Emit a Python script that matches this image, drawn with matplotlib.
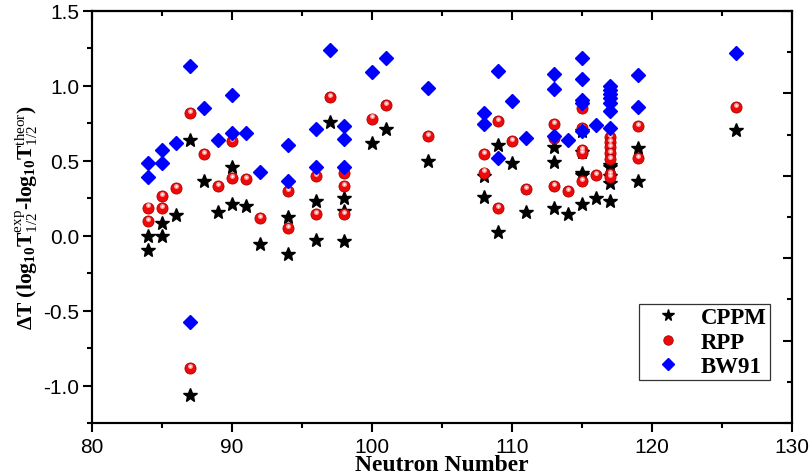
import numpy as np
import matplotlib
matplotlib.use("Agg")
import matplotlib.pyplot as plt
from matplotlib.ticker import MultipleLocator, FixedLocator, NullFormatter
from matplotlib.transforms import offset_copy

# ---------------- data ----------------
cppm_N = [84, 84, 85, 85, 86, 87, 87, 88, 89, 90, 90, 91, 92, 94, 94, 96, 96, 97,
          98, 98, 98, 100, 101, 104, 108, 108, 109, 109, 110, 111, 113, 113, 113,
          114, 115, 115, 115, 115, 115, 116, 117, 117, 117, 117, 117, 119, 119, 126]
cppm_dT = [0.0, -0.093, 0.085, -0.004, 0.138, 0.64, -1.062, 0.367, 0.156, 0.458, 0.209,
           0.2, -0.053, 0.122, -0.122, 0.229, -0.027, 0.762, 0.251, 0.167, -0.033,
           0.618, 0.711, 0.496, 0.396, 0.26, 0.607, 0.022, 0.485, 0.156, 0.589, 0.493,
           0.183, 0.145, 0.70, 0.56, 0.422, 0.404, 0.211, 0.249, 0.47, 0.456, 0.40,
           0.351, 0.235, 0.585, 0.362, 0.707]

rpp_N = [84, 84, 85, 85, 86, 87, 87, 88, 89, 90, 90, 91, 92, 94, 94, 96, 96, 97,
         98, 98, 98, 100, 101, 104, 108, 108, 109, 109, 110, 111, 113, 113, 113,
         114, 115, 115, 115, 115, 115, 116, 117, 117, 117, 117, 117, 117, 117,
         119, 119, 126]
rpp_dT = [0.187, 0.096, 0.267, 0.183, 0.316, 0.816, -0.882, 0.547, 0.333, 0.631, 0.385,
          0.378, 0.118, 0.296, 0.049, 0.4, 0.145, 0.927, 0.418, 0.329, 0.145, 0.782,
          0.873, 0.667, 0.545, 0.422, 0.767, 0.185, 0.629, 0.311, 0.745, 0.653, 0.333,
          0.298, 0.851, 0.716, 0.571, 0.551, 0.362, 0.404, 0.656, 0.625, 0.59, 0.55,
          0.51, 0.41, 0.389, 0.733, 0.516, 0.86]

bw91_N = [84, 84, 85, 85, 86, 87, 87, 88, 89, 90, 90, 91, 92, 94, 94, 96, 96, 97,
          98, 98, 98, 100, 101, 104, 108, 108, 109, 109, 110, 111, 113, 113, 113,
          114, 115, 115, 115, 115, 115, 116, 117, 117, 117, 117, 117, 117, 117,
          119, 119, 126]
bw91_dT = [0.483, 0.389, 0.571, 0.483, 0.618, 1.133, -0.577, 0.853, 0.64, 0.938, 0.689,
           0.685, 0.427, 0.607, 0.362, 0.711, 0.46, 1.238, 0.733, 0.645, 0.456, 1.096,
           1.185, 0.989, 0.822, 0.749, 1.1, 0.516, 0.9, 0.649, 1.078, 0.978, 0.667,
           0.638, 1.189, 1.045, 0.905, 0.889, 0.696, 0.738, 1.0, 0.973, 0.945, 0.916,
           0.885, 0.833, 0.722, 1.073, 0.856, 1.218]

series_labels = ["CPPM", "RPP", "BW91"]
x_label = "Neutron Number"
y_label = (r"$\mathbf{\Delta T\ (log_{10}T}^{\mathrm{exp}}_{\mathrm{1/2}}"
           r"\mathbf{\text{-}log_{10}T}^{\mathrm{theor}}_{\mathrm{1/2}}\mathbf{)}$")

# ---------------- style ----------------
plt.rcParams["font.family"] = ["Liberation Sans", "DejaVu Sans"]
plt.rcParams["axes.unicode_minus"] = False
plt.rcParams["mathtext.fontset"] = "custom"
plt.rcParams["mathtext.rm"] = "Liberation Serif"
plt.rcParams["mathtext.bf"] = "Liberation Serif:bold"
plt.rcParams["mathtext.it"] = "Liberation Serif:italic"

fig = plt.figure(figsize=(8.09, 4.77), dpi=100)
ax = fig.add_axes([92 / 809, 1 - 424 / 477, 700 / 809, 412 / 477])

lw_ax = 1.5
for s in ax.spines.values():
    s.set_linewidth(lw_ax)

h1, = ax.plot(cppm_N, cppm_dT, linestyle="none", marker="*", ms=10,
              color="black", mec="black", zorder=3, label=series_labels[0])
h2, = ax.plot(rpp_N, rpp_dT, linestyle="none", marker="o", ms=8.0,
              mfc="#ee0a0a", mec="#b00000", mew=0.6, zorder=4, label=series_labels[1])
hl = offset_copy(ax.transData, fig=fig, x=-0.2, y=1.6, units="points")
ax.plot(rpp_N, rpp_dT, linestyle="none", marker="o", ms=3.6, mfc="#ff9a9a",
        mec="none", transform=hl, zorder=4.1)
ax.plot(rpp_N, rpp_dT, linestyle="none", marker="o", ms=1.6, mfc="white",
        mec="none", transform=hl, zorder=4.2)
h3, = ax.plot(bw91_N, bw91_dT, linestyle="none", marker="D", ms=7.0,
              color="#0000ff", mec="#0000ff", zorder=5, label=series_labels[2])

ax.set_xlim(80, 130)
ax.set_ylim(-1.25, 1.5)
ax.xaxis.set_major_locator(MultipleLocator(10))
ax.xaxis.set_minor_locator(MultipleLocator(5))
ax.yaxis.set_major_locator(MultipleLocator(0.5))
ax.yaxis.set_minor_locator(MultipleLocator(0.25))
ax.yaxis.set_major_formatter(matplotlib.ticker.FormatStrFormatter("%.1f"))

ax.tick_params(axis="both", which="major", direction="out", length=6.8, width=lw_ax,
               labelsize=15, pad=3, top=False, right=False)
ax.tick_params(axis="y", which="major", pad=2.5)
ax.tick_params(axis="both", which="minor", direction="out", length=3.4, width=lw_ax,
               top=False, right=False)

# top axis ticks (inward, no labels)
top = ax.secondary_xaxis("top")
top.xaxis.set_major_locator(MultipleLocator(10))
top.xaxis.set_minor_locator(MultipleLocator(5))
top.xaxis.set_major_formatter(NullFormatter())
top.tick_params(which="major", direction="in", length=6.8, width=lw_ax)
top.tick_params(which="minor", direction="in", length=3.4, width=lw_ax)
top.spines["top"].set_linewidth(lw_ax)

# right axis ticks (inward, independent spacing, no labels)
rax = ax.twinx()
rax.set_ylim(0, 1)
rax.yaxis.set_major_locator(FixedLocator(np.linspace(0, 1, 6)))
rax.yaxis.set_minor_locator(FixedLocator(np.linspace(0.1, 0.9, 5)))
rax.yaxis.set_major_formatter(NullFormatter())
rax.tick_params(which="major", direction="in", length=6.8, width=lw_ax)
rax.tick_params(which="minor", direction="in", length=3.8, width=lw_ax)
for s in rax.spines.values():
    s.set_linewidth(lw_ax)

ax.set_xlabel(x_label, family="Liberation Serif", fontweight="bold", fontsize=17,
              labelpad=-1)
ax.set_ylabel(y_label, fontsize=15.5, labelpad=2)

leg = ax.legend(handles=[h1, h2, h3], loc="lower left", bbox_to_anchor=(0.781, 0.104),
                borderaxespad=0, frameon=True, fancybox=False, framealpha=1,
                edgecolor="#333333", prop={"family": "Liberation Serif",
                                           "weight": "bold", "size": 16.5},
                handlelength=2.3, handletextpad=0.3, labelspacing=0.16,
                borderpad=0.12, markerscale=0.85)
leg.get_frame().set_linewidth(0.9)

fig.savefig("out.png", dpi=100)
